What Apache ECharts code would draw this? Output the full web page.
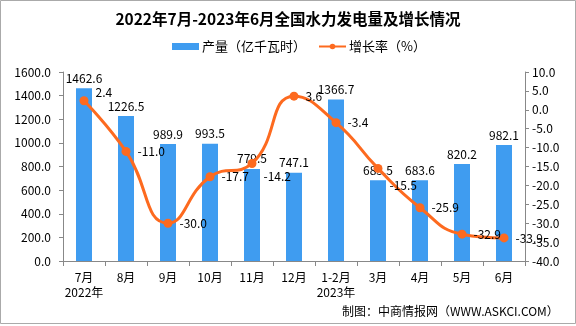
<!DOCTYPE html>
<html><head><meta charset="utf-8">
<script src="https://cdn.jsdelivr.net/npm/echarts@6/dist/echarts.min.js"></script>
<style>html,body{margin:0;padding:0;background:#fff}#c{width:576px;height:326px}</style>
</head><body><div id="c"></div>
<script>
const categories = ['7月\n2022年','8月','9月','10月','11月','12月','1-2月\n2023年','3月','4月','5月','6月'];
const output = [1462.6,1226.5,989.9,993.5,779.5,747.1,1366.7,683.5,683.6,820.2,982.1];
const growth = [2.4,-11.0,-30.0,-17.7,-14.2,3.6,-3.4,-15.5,-25.9,-32.9,-33.9];
const title = '2022年7月-2023年6月全国水力发电量及增长情况';
const source = '制图：中商情报网（WWW.ASKCI.COM）';

// label nudges (style only), keyed by category index
const growthLabelNudge = {0:[0,-8],4:[0,13],7:[0,17]};

const ff = '"Noto Sans CJK SC",sans-serif';
const growthData = growth.map((v,i)=> growthLabelNudge[i] ? {value:v,label:{offset:growthLabelNudge[i]}} : v);
const chart = echarts.init(document.getElementById('c'));
chart.setOption({
  animation:false,
  backgroundColor:'#fff',
  title:{text:title,left:'center',top:6,textStyle:{fontFamily:ff,fontSize:15.5,fontWeight:'bold',color:'#000'}},
  legend:{top:40,left:172,padding:0,itemGap:12,itemWidth:27,itemHeight:7,
    textStyle:{fontFamily:ff,fontSize:13,color:'#000',padding:[0,0,0,-2]},
    data:[{name:'产量（亿千瓦时）',icon:'rect'},{name:'增长率（%）'}]},
  grid:{left:63,right:51,top:72,bottom:65},
  xAxis:{type:'category',data:categories,
    axisLine:{lineStyle:{color:'#888'}},
    axisTick:{show:true,length:5,lineStyle:{color:'#888'}},
    axisLabel:{color:'#000',fontFamily:ff,fontSize:12,margin:9,interval:0,lineHeight:15}},
  yAxis:[
    {type:'value',min:0,max:1600,interval:200,
     axisLine:{show:true,lineStyle:{color:'#888'}},axisTick:{show:true,length:4,lineStyle:{color:'#888'}},
     splitLine:{show:false},
     axisLabel:{color:'#000',fontFamily:ff,fontSize:12,margin:12,formatter:v=>v.toFixed(1)}},
    {type:'value',min:-40,max:10,interval:5,
     axisLine:{show:true,lineStyle:{color:'#888'}},axisTick:{show:true,length:4,lineStyle:{color:'#888'}},
     splitLine:{show:false},
     axisLabel:{color:'#000',fontFamily:ff,fontSize:12,margin:7,formatter:v=>v.toFixed(1)}}
  ],
  series:[
    {name:'产量（亿千瓦时）',type:'bar',data:output,barWidth:16,
     itemStyle:{color:'#3f9cf0'},
     label:{show:true,position:'top',distance:4,color:'#000',fontFamily:ff,fontSize:12,formatter:p=>p.value.toFixed(1)}},
    {name:'增长率（%）',type:'line',yAxisIndex:1,data:growthData,smooth:0.5,
     symbol:'circle',symbolSize:9,
     lineStyle:{color:'#fd6a1f',width:3},itemStyle:{color:'#fd6a1f'},
     label:{show:true,position:'right',distance:7,color:'#000',fontFamily:ff,fontSize:12,formatter:p=>p.value.toFixed(1)}}
  ],
  graphic:[
    {type:'rect',shape:{x:0.5,y:0.5,width:575,height:323},style:{fill:null,stroke:'#aaa',lineWidth:1}},
    {type:'text',left:342,top:305,style:{text:source,fontFamily:ff,fontSize:12,fill:'#000'}}
  ]
});
</script></body></html>
